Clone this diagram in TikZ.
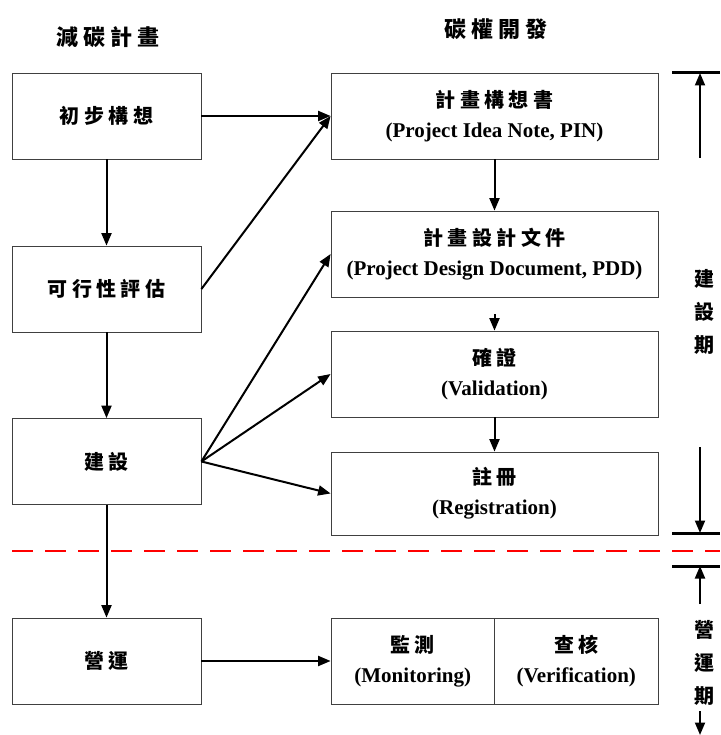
\documentclass[tikz,border=0pt]{standalone}
\usepackage{fontspec}
\setmainfont{Liberation Serif}
\newfontfamily\cjk[LetterSpace=22]{Noto Sans CJK TC}
\usetikzlibrary{arrows.meta}
\newcommand\zhtxt[1]{{\cjk\bfseries\fontsize{20}{22}\selectfont #1}}
\begin{document}
\begin{tikzpicture}[x=1pt,y=-1pt,
  box/.style={draw=black!75, line width=0.8pt, minimum width=189pt, minimum height=86pt,
    inner sep=0pt, align=center, font=\bfseries\fontsize{21}{28}\selectfont},
  wide/.style={box, minimum width=327pt},
  half/.style={box, minimum width=163.5pt},
  arr/.style={-{Triangle[length=12.5pt,width=10pt]}, line width=2pt},
  bar/.style={line width=3pt},
  title/.style={font=\cjk\bfseries\fontsize{22}{24}\selectfont},
  side/.style={align=center, font=\cjk\bfseries\fontsize{20}{33}\selectfont}
]
\useasboundingbox (0,0) rectangle (720,735);

% titles
\node[title] (t1) at (108,37) {減碳計畫};
\node[title] (t2) at (496,29) {碳權開發};

% left column
\node[box] (a1) at (106.5,116) {\zhtxt{初步構想}};
\node[box] (a2) at (106.5,289) {\zhtxt{可行性評估}};
\node[box] (a3) at (106.5,461.5) {\zhtxt{建設}};
\node[box] (a4) at (106.5,661) {\zhtxt{營運}};

% right column
\node[wide] (b1) at (494.5,116) {\zhtxt{計畫構想書}\\[2pt](Project Idea Note, PIN)};
\node[wide] (b2) at (494.5,254) {\zhtxt{計畫設計文件}\\[2pt](Project Design Document, PDD)};
\node[wide] (b3) at (494.5,374) {\zhtxt{確證}\\[2pt](Validation)};
\node[wide, minimum height=83pt] (b4) at (494.5,493.5) {\zhtxt{註冊}\\[2pt](Registration)};
\node[half] (b5) at (412.75,661) {\zhtxt{監測}\\[2pt](Monitoring)};
\node[half] (b6) at (576.25,661) {\zhtxt{查核}\\[2pt](Verification)};

% arrows
\draw[arr] (a1) -- (b1.west);
\draw[arr] (a1) -- (a2);
\draw[arr] (a2.east) -- (b1.west);
\draw[arr] (a2) -- (a3);
\draw[arr] (a3.east) -- (b2.west);
\draw[arr] (a3.east) -- (b3.west);
\draw[arr] (a3.east) -- (b4.west);
\draw[arr] (a3) -- (a4);
\draw[arr] (a4) -- (b5);
\draw[arr] (b1) -- (b2);
\coordinate (c23) at (494.5,314);
\draw[arr] (c23) -- (b3.north);
\draw[arr] (b3) -- (b4);

% phase divider
\draw[red, line width=2.5pt, dash pattern=on 21pt off 12pt] (12,551) -- (720,551);

% construction period bracket
\coordinate (p1) at (672,73);
\coordinate (p2) at (720,73);
\draw[bar] (p1) -- (p2);
\coordinate (p3) at (700,158);
\coordinate (p4) at (700,73);
\draw[arr] (p3) -- (p4);
\node[side] (s1) at (704,312) {建\\設\\期};
\coordinate (p5) at (700,447);
\coordinate (p6) at (700,533);
\draw[arr] (p5) -- (p6);
\coordinate (p7) at (672,533);
\coordinate (p8) at (720,533);
\draw[bar] (p7) -- (p8);

% operation period bracket
\coordinate (q1) at (672,566);
\coordinate (q2) at (720,566);
\draw[bar] (q1) -- (q2);
\coordinate (q3) at (700,604);
\coordinate (q4) at (700,566);
\draw[arr] (q3) -- (q4);
\node[side] (s2) at (704,663) {營\\運\\期};
\coordinate (q5) at (700,711);
\coordinate (q6) at (700,735);
\draw[arr] (q5) -- (q6);
\end{tikzpicture}
\end{document}
